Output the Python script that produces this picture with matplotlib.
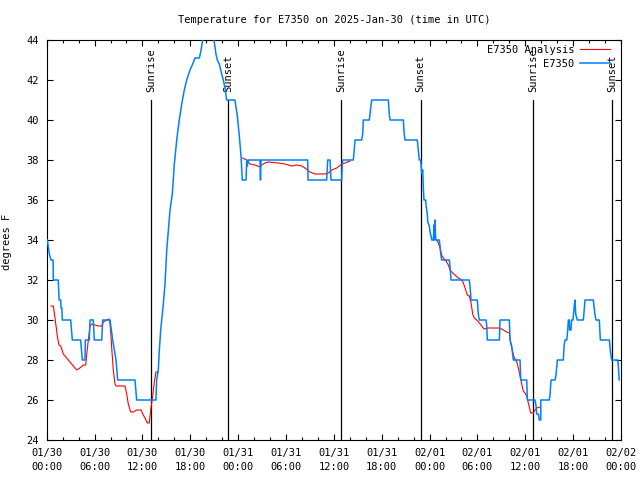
import matplotlib
matplotlib.use("Agg")
import matplotlib.pyplot as plt
from matplotlib.ticker import MultipleLocator

# Zeit in Stunden ab 2025-01-30 00:00 UTC
obs_hours = [0.08, 0.33, 0.54, 0.80, 0.83, 1.45, 1.55, 1.76, 1.80, 1.90, 1.96, 3.01, 3.21, 4.26, 4.46, 4.80,
             4.84, 5.34, 5.43, 5.84, 5.97, 6.90, 7.02, 7.94, 8.27, 8.69, 8.90, 11.07, 11.28, 13.70, 13.78,
             13.99, 14.12, 14.29, 14.62, 14.83, 15.05, 15.25, 15.46, 15.75, 16.00, 16.30, 16.62, 16.93,
             17.25, 17.55, 17.97, 18.30, 18.59, 19.13, 19.31, 19.56, 19.85, 20.72, 20.97, 21.22, 21.39,
             21.64, 21.94, 22.14, 22.35, 22.56, 23.60, 23.90, 24.15, 24.36, 24.52, 24.99, 25.08, 25.15,
             25.28, 26.74, 26.80, 26.87, 32.72, 32.76, 35.10, 35.23, 35.52, 35.64, 36.99, 37.05, 37.11,
             38.44, 38.53, 38.65, 39.49, 39.62, 39.69, 40.45, 40.62, 40.75, 42.83, 42.95, 43.04, 44.71,
             44.80, 44.92, 46.46, 46.59, 46.71, 46.89, 47.02, 47.14, 47.22, 47.30, 47.52, 47.55, 47.72,
             47.77, 47.97, 48.06, 48.18, 48.27, 48.47, 48.56, 48.60, 48.68, 48.77, 49.22, 49.31, 49.40,
             49.52, 50.48, 50.56, 50.69, 52.98, 53.07, 53.20, 53.99, 54.11, 54.24, 55.08, 55.17, 55.24,
             56.75, 56.83, 58.00, 58.09, 58.30, 58.50, 59.34, 59.43, 60.18, 60.26, 61.22, 61.35, 61.43,
             61.64, 61.76, 61.94, 61.95, 63.01, 63.10, 63.23, 63.73, 63.85, 64.02, 64.77, 64.86, 64.98,
             65.20, 65.32, 65.40, 65.52, 65.56, 65.73, 65.80, 65.98, 66.15, 66.24, 66.32, 66.52, 67.28,
             67.49, 68.53, 68.74, 68.87, 69.28, 69.41, 70.54, 70.71, 70.84, 71.59, 71.66, 71.77]
obs_temp = [34.0, 33.3, 33.0, 33.0, 32.0, 32.0, 31.0, 31.0, 30.6, 30.6, 30.0, 30.0, 29.0, 29.0, 28.0, 28.0,
            29.0, 29.0, 30.0, 30.0, 29.0, 29.0, 30.0, 30.0, 29.0, 28.0, 27.0, 27.0, 26.0, 26.0, 27.0,
            27.5, 28.5, 29.5, 30.8, 31.8, 33.5, 34.5, 35.5, 36.3, 37.8, 39.0, 40.0, 40.8,
            41.5, 42.0, 42.5, 42.8, 43.1, 43.1, 43.4, 44.0, 44.5, 44.5, 44.0, 43.3, 43.0,
            42.8, 42.3, 42.0, 41.6, 41.0, 41.0, 40.2, 39.2, 38.2, 37.0, 37.0, 38.0, 37.7,
            38.0, 38.0, 37.0, 38.0, 38.0, 37.0, 37.0, 38.0, 38.0, 37.0, 37.0, 37.75, 38.0,
            38.0, 38.4, 39.0, 39.0, 39.3, 40.0, 40.0, 40.6, 41.0, 41.0, 40.3, 40.0, 40.0,
            39.4, 39.0, 39.0, 38.5, 38.0, 38.0, 37.3, 37.5, 36.6, 36.0, 36.0, 35.75, 35.3,
            34.9, 34.7, 34.4, 34.2, 34.0, 34.0, 34.75, 34.0, 35.0, 34.0, 34.0, 33.7, 33.3,
            33.0, 33.0, 32.7, 32.0, 32.0, 31.7, 31.0, 31.0, 30.3, 30.0, 30.0, 29.7, 29.0,
            29.0, 30.0, 30.0, 29.0, 28.7, 28.0, 28.0, 27.0, 27.0, 26.0, 26.0, 25.7, 25.3,
            25.3, 25.0, 25.0, 26.0, 26.0, 26.25, 27.0, 27.0, 27.25, 28.0, 28.0, 28.7, 29.0,
            29.0, 29.5, 30.0, 30.0, 29.5, 29.5, 30.0, 30.0, 30.75, 31.0, 30.3, 30.0, 30.0,
            31.0, 31.0, 30.25, 30.0, 30.0, 29.0, 29.0, 28.3, 28.0, 28.0, 27.75, 27.0]

# Analyse (rot), drei Abschnitte
ana1_hours = [0.54, 0.83, 1.04, 1.17, 1.33, 1.54, 1.76, 2.08, 2.51, 2.71, 3.13, 3.55, 3.76, 4.17, 4.59, 4.89,
              5.02, 5.22, 5.43, 5.64, 6.06, 6.47, 6.90, 7.10, 7.52, 7.81, 7.94, 8.06, 8.15, 8.35, 8.56,
              8.69, 9.82, 10.03, 10.23, 10.53, 10.86, 11.28, 11.82, 12.11, 12.45, 12.61, 12.86, 12.95,
              13.04, 13.29, 13.49, 13.70, 13.99]
ana1_temp = [30.7, 30.7, 30.1, 29.7, 29.2, 28.75, 28.7, 28.3, 28.1, 28.0, 27.8, 27.6, 27.5, 27.6, 27.75, 27.75,
             28.3, 29.0, 29.7, 29.8, 29.75, 29.7, 29.7, 29.9, 30.0, 30.05, 29.8, 29.2, 28.6, 27.5, 26.8,
             26.7, 26.7, 26.3, 25.8, 25.4, 25.4, 25.5, 25.5, 25.25, 25.0, 24.85, 24.85, 25.2,
             25.5, 26.2, 26.9, 27.4, 27.4]
ana2_hours = [24.57, 25.08, 25.49, 26.11, 26.74, 26.96, 27.37, 27.78, 29.04, 29.88, 30.72, 31.34, 31.97,
              32.38, 33.01, 33.64, 34.27, 34.89, 35.31, 35.73, 36.36, 36.99, 37.40, 38.03]
ana2_temp = [38.1, 38.0, 37.8, 37.75, 37.65, 37.75, 37.85, 37.9, 37.85, 37.8, 37.7, 37.75, 37.7,
             37.6, 37.4, 37.3, 37.3, 37.3, 37.35, 37.5, 37.6, 37.8, 37.85, 37.95]
ana3_hours = [48.90, 49.10, 49.31, 49.52, 49.72, 49.94, 50.15, 50.35, 50.56, 50.78, 51.19, 51.61, 52.03,
              52.23, 52.45, 52.73, 52.98, 53.20, 53.41, 53.61, 53.91, 54.24, 54.54, 54.83, 55.37, 56.62,
              57.05, 57.67, 58.00, 58.17, 58.42, 58.63, 58.93, 59.13, 59.34, 59.55, 59.75, 59.97, 60.18,
              60.38, 60.59, 60.68, 61.01, 61.22, 61.43, 61.85]
ana3_temp = [34.0, 33.85, 33.6, 33.25, 33.1, 33.0, 32.9, 32.75, 32.5, 32.4, 32.25, 32.1, 32.0,
             31.85, 31.6, 31.25, 31.2, 30.85, 30.3, 30.1, 30.0, 29.85, 29.7, 29.55, 29.6, 29.6,
             29.55, 29.4, 29.35, 28.85, 28.4, 28.1, 27.9, 27.6, 27.2, 26.8, 26.45, 26.35, 26.2,
             25.85, 25.5, 25.35, 25.35, 25.5, 25.6, 25.65]

sun_hours = [13.08, 22.77, 36.94, 46.87, 61.03, 70.91]
sun_labels = ['Sunrise', 'Sunset', 'Sunrise', 'Sunset', 'Sunrise', 'Sunset']

tick_hours = list(range(0, 73, 6))
tick_labels = ['01/30\n00:00', '01/30\n06:00', '01/30\n12:00', '01/30\n18:00',
               '01/31\n00:00', '01/31\n06:00', '01/31\n12:00', '01/31\n18:00',
               '02/01\n00:00', '02/01\n06:00', '02/01\n12:00', '02/01\n18:00', '02/02\n00:00']

plt.rcParams['font.family'] = 'DejaVu Sans Mono'
plt.rcParams['font.size'] = 7.5

fig = plt.figure(figsize=(6.4, 4.8), dpi=100)
ax = fig.add_axes([46.7 / 640, 40 / 480, 574.3 / 640, 400 / 480])

# Sonnenauf-/untergang als senkrechte Linien
for h, lab in zip(sun_hours, sun_labels):
    ax.plot([h, h], [24, 41], color='black', lw=0.9, zorder=1)
    ax.text(h, 41.42, lab, rotation=90, ha='center', va='bottom', zorder=1)

ax.plot(ana1_hours, ana1_temp, color='#ff0000', lw=0.8, label='E7350 Analysis', zorder=2)
ax.plot(ana2_hours, ana2_temp, color='#ff0000', lw=0.8, zorder=2)
ax.plot(ana3_hours, ana3_temp, color='#ff0000', lw=0.8, zorder=2)
ax.plot(obs_hours, obs_temp, color='#0080ff', lw=1.1, label='E7350', zorder=3)

ax.set_xlim(0, 72)
ax.set_ylim(24, 44)
ax.set_xticks(tick_hours)
ax.set_xticklabels(tick_labels, linespacing=1.4)
ax.xaxis.set_minor_locator(MultipleLocator(2))
ax.set_yticks(range(24, 45, 2))

ax.tick_params(which='both', direction='in', top=True, right=True, width=0.8)
ax.tick_params(which='major', length=4)
ax.tick_params(which='minor', length=2)
ax.tick_params(axis='x', pad=6)
ax.tick_params(axis='y', pad=5.5)
for s in ax.spines.values():
    s.set_linewidth(0.8)

ax.set_ylabel('degrees F')
ax.yaxis.set_label_coords(-0.06, 0.495)
ax.text(0.5, 1.05, 'Temperature for E7350 on 2025-Jan-30 (time in UTC)',
        transform=ax.transAxes, ha='center', va='center')

ax.legend(loc='upper right', bbox_to_anchor=(0.991, 1.003), frameon=False, markerfirst=False,
          handlelength=2.8, handletextpad=0.6, labelspacing=0.35, borderaxespad=0.3, borderpad=0.3)

fig.savefig('out.png', dpi=100)
